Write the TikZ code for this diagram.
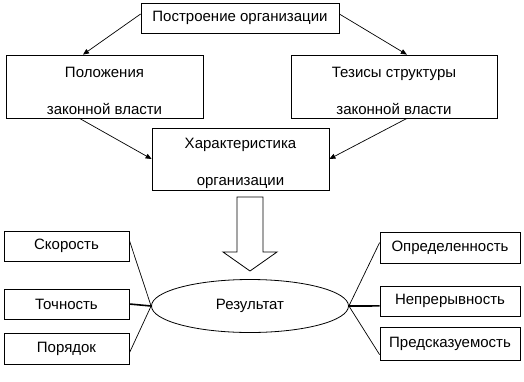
\documentclass[tikz,border=0pt]{standalone}
\usepackage{fontspec}
\setmainfont{Liberation Sans}
\usetikzlibrary{arrows.meta,shapes.geometric}
\begin{document}
\begin{tikzpicture}[x=1pt, y=-1pt,
        box/.style={draw, line width=0.8pt, inner sep=0pt, align=center, font=\fontsize{15}{18}\selectfont},
        link/.style={line width=0.7pt, -{Triangle[length=6pt, width=5pt]}},
        spoke/.style={line width=0.7pt}]
    \useasboundingbox (0, 0) rectangle (524, 381);
    % upper part
    \node[box, minimum width=198, minimum height=30] (build) at (240, 18) {Построение организации};
    \node[box, minimum width=197, minimum height=63] (laws) at (104.5, 86.5) {\rule{0pt}{19pt}Положения\\[19pt]законной власти};
    \node[box, minimum width=206, minimum height=63] (theses) at (394, 86.5) {\rule{0pt}{19pt}Тезисы структуры\\[19pt]законной власти};
    \node[box, minimum width=177, minimum height=62] (chars) at (240.5, 159) {\rule{0pt}{19pt}Характеристика\\[19pt]организации};
    \draw[link] ([yshift=4pt]build.west) -- (laws.124);
    \draw[link] ([yshift=4pt]build.east) -- (theses.68);
    \draw[link] (laws.232) -- (chars.west);
    \draw[link] (theses.292) -- (chars.east);
    % hollow arrow
    \draw[line width=0.8pt] (237, 197) -- (263, 197) -- (263, 252) -- (277, 252) -- (250, 271) -- (223, 252) -- (237, 252) -- cycle;
    % result and its qualities
    \node[box, ellipse, minimum width=197, minimum height=53] (res) at (250, 306) {Результат};
    \node[box, minimum width=125, minimum height=30] (speed) at (66.5, 246) {Скорость};
    \node[box, minimum width=125, minimum height=30] (accur) at (66.5, 304) {Точность};
    \node[box, minimum width=125, minimum height=31] (order) at (66.5, 348.5) {Порядок};
    \node[box, minimum width=140, minimum height=31] (defin) at (450, 247.5) {Определенность};
    \node[box, minimum width=140, minimum height=30] (contin) at (450, 301) {Непрерывность};
    \node[box, minimum width=140, minimum height=33] (predict) at (450, 343.5) {Предсказуемость};
    \draw[spoke] (speed.5) -- (res.west);
    \draw[spoke, line width=1.6pt] (accur.east) -- (res.west);
    \draw[spoke] (order.-4) -- (res.west);
    \draw[spoke] (defin.176) -- (res.east);
    \draw[spoke, line width=1.6pt] (contin.184) -- (res.east);
    \draw[spoke] (predict.189) -- (res.east);
\end{tikzpicture}
\end{document}
